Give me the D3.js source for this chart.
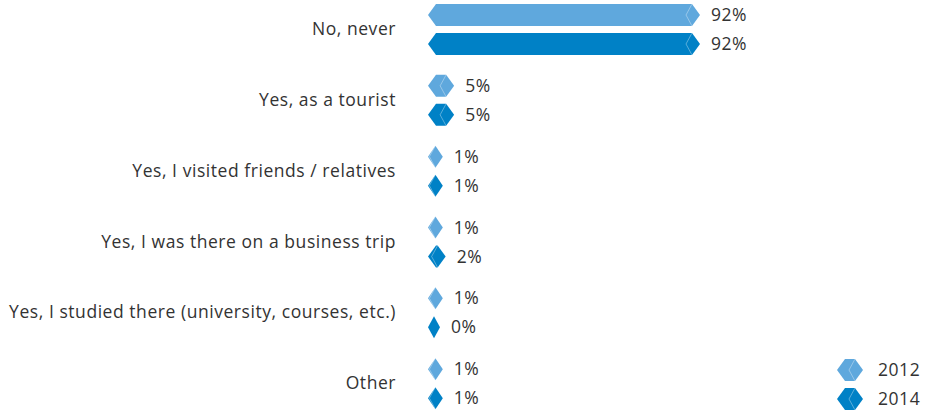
<!DOCTYPE html>
<html>
<head>
<meta charset="utf-8">
<script src="https://cdn.jsdelivr.net/npm/d3@7"></script>
<style>
  body { margin: 0; background: #fff; }
  svg text { font-family: "Open Sans", Roboto, sans-serif; fill: #333; font-size: 17.5px; letter-spacing: 0.55px; }
</style>
</head>
<body>
<svg width="931" height="412"></svg>
<script>
var categories = ["No, never", "Yes, as a tourist", "Yes, I visited friends / relatives",
                  "Yes, I was there on a business trip", "Yes, I studied there (university, courses, etc.)", "Other"];
var years = ["2012", "2014"];
var values2012 = [92, 5, 1, 1, 1, 1];
var values2014 = [92, 5, 1, 2, 0, 1];
var colors = ["#5fa8dd", "#0081c6"];

var svg = d3.select("svg"),
    left = 428,
    minW = 12,
    barH = 22;

var data = categories.map(function(c, i) {
    return { cat: c, vals: [values2012[i], values2014[i]] };
});

var y = d3.scaleBand().domain(categories).range([0, 425]);
var ySub = d3.scaleBand().domain(years).range([4, 62]);
var x = d3.scaleLinear().domain([0, 92]).range([0, 260]);

// hexagon bar, tips shrink for tiny values
function barPath(W) {
    var t = Math.min(8, W / 2), h = barH, m = h / 2;
    return "M0," + m + "L" + t + ",0L" + (W - t) + ",0L" + W + "," + m +
           "L" + (W - t) + "," + h + "L" + t + "," + h + "Z";
}
function notchPath(W) {
    var t = Math.min(8, W / 2), h = barH, m = h / 2;
    return "M" + (W - t) + ",0L" + (W - t - 6) + "," + m + "L" + (W - t) + "," + h;
}

var groups = svg.selectAll(".grp")
    .data(data)
    .enter().append("g")
    .attr("class", "grp")
    .attr("transform", function(d) { return "translate(0," + y(d.cat) + ")"; });

groups.append("text")
    .attr("x", 396)
    .attr("y", 29)
    .attr("dy", "0.35em")
    .attr("text-anchor", "end")
    .text(function(d) { return d.cat; });

var bars = groups.selectAll(".bar")
    .data(function(d) { return d.vals.map(function(v, i) { return { v: v, yr: years[i], i: i }; }); })
    .enter().append("g")
    .attr("class", "bar")
    .attr("transform", function(d) { return "translate(" + left + "," + ySub(d.yr) + ")"; });

bars.append("path")
    .attr("d", function(d) { return barPath(minW + x(d.v)); })
    .attr("fill", function(d) { return colors[d.i]; });

bars.filter(function(d) { return d.v > 0; }).append("path")
    .attr("d", function(d) { return notchPath(minW + x(d.v)); })
    .attr("fill", "none")
    .attr("stroke", "#fff")
    .attr("stroke-opacity", 0.35)
    .attr("stroke-width", 1);

bars.append("text")
    .attr("x", function(d) { return minW + x(d.v) + 11; })
    .attr("y", barH / 2)
    .attr("dy", "0.35em")
    .text(function(d) { return d.v + "%"; });

// legend
var legend = svg.append("g").attr("transform", "translate(837,359)");
var li = legend.selectAll("g")
    .data(years)
    .enter().append("g")
    .attr("transform", function(d, i) { return "translate(0," + (i * 29) + ")"; });
li.append("path")
    .attr("d", barPath(26))
    .attr("fill", function(d, i) { return colors[i]; });
li.append("path")
    .attr("d", notchPath(26))
    .attr("fill", "none")
    .attr("stroke", "#fff")
    .attr("stroke-opacity", 0.35);
li.append("text")
    .attr("x", 41)
    .attr("y", barH / 2)
    .attr("dy", "0.35em")
    .text(function(d) { return d; });
</script>
</body>
</html>
